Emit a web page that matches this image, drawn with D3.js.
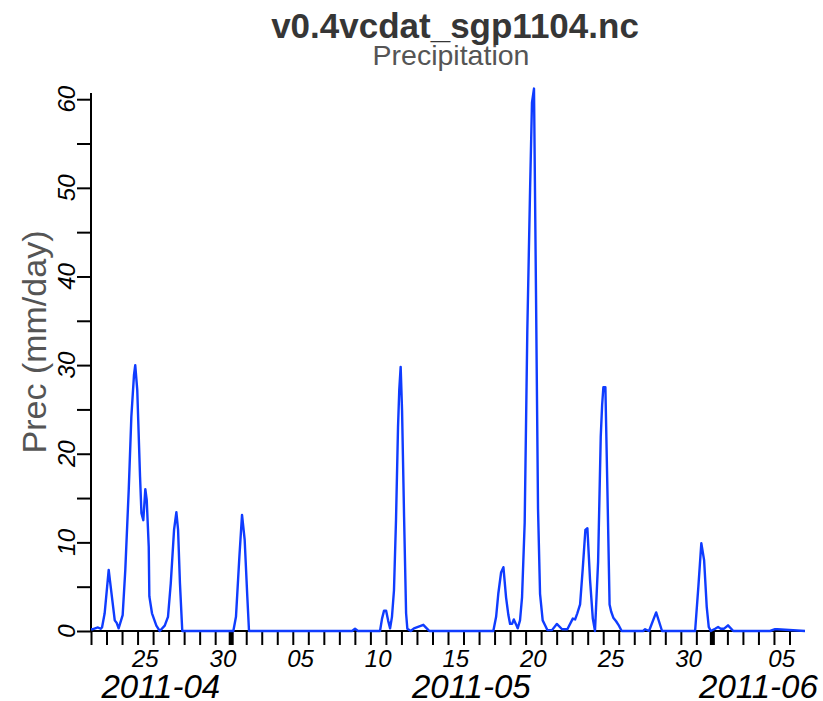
<!DOCTYPE html>
<html>
<head>
<meta charset="utf-8">
<script src="https://cdn.jsdelivr.net/npm/d3@7"></script>
<style>
  body { margin: 0; background: #fff; }
  text { font-family: "Liberation Sans", Arial, Helvetica, sans-serif; }
</style>
</head>
<body>
<svg id="chart"></svg>
<script>
// time axis starts 2011-04-22 00:00 UTC, offsets are in days
const startDate = new Date(Date.UTC(2011, 3, 22));
const endDate = new Date(Date.UTC(2011, 5, 7));

const dayOffset = [
  0, 0.13, 0.45, 0.62, 0.71, 0.88, 1.14, 1.22, 1.53, 1.66, 1.78, 2.04, 2.21, 2.43,
  2.60, 2.77, 2.85, 2.98, 3.16, 3.25, 3.37, 3.50, 3.59, 3.72, 3.76, 3.93, 4.21, 4.43,
  4.75, 4.96, 5.14, 5.35, 5.50, 5.61, 5.73, 5.88,
  9.17, 9.34, 9.56, 9.73, 9.90, 10.07, 10.18,
  16.82, 17.01, 17.20,
  18.62, 18.75, 18.88, 19.01, 19.14, 19.27, 19.39, 19.52, 19.65, 19.78, 19.86, 19.95,
  20.04, 20.17, 20.30, 20.38, 20.60, 20.81, 21.11, 21.41, 21.63, 21.80,
  25.92, 26.10, 26.24, 26.42, 26.57, 26.74, 26.89, 27.00, 27.13, 27.24, 27.37, 27.49,
  27.64, 27.77, 27.94, 28.11, 28.29, 28.41, 28.54, 28.67, 28.80, 28.93, 29.10, 29.27,
  29.40, 29.70, 30.01, 30.35, 30.69, 31.04, 31.19, 31.33, 31.51, 31.68, 31.85, 31.98,
  32.15, 32.33, 32.47, 32.67, 32.84, 32.93, 33.01, 33.14, 33.28, 33.41, 33.51, 33.65,
  33.83, 33.98, 34.19,
  35.57, 35.70, 35.95, 36.41, 36.79,
  38.92, 39.13, 39.32, 39.50, 39.67, 39.80, 39.93, 40.21, 40.40, 40.57, 40.79, 41.04, 41.38,
  43.75, 44.07, 44.22, 46.0
];

const prec = [
  0.2, 0.2, 0.4, 0.25, 0.4, 2.0, 6.9, 5.7, 1.2, 0.9, 0.3, 1.8, 6.9, 15.9,
  24.2, 28.9, 30.0, 27.2, 17.4, 13.3, 12.5, 16.0, 14.8, 9.5, 3.9, 2.0, 0.6, 0,
  0.6, 1.6, 5.4, 11.4, 13.4, 11.4, 5.4, 0,
  0, 1.6, 8.4, 13.1, 10.3, 3.9, 0,
  0, 0.25, 0,
  0, 1.4, 2.3, 2.3, 1.2, 0.3, 1.6, 4.6, 12.5, 23.0, 27.2, 29.8,
  24.9, 12.9, 2.0, 0.26, 0, 0.3, 0.5, 0.7, 0.3, 0,
  0, 1.6, 4.2, 6.6, 7.2, 3.8, 1.8, 0.8, 0.8, 1.3, 0.8, 0.3,
  1.2, 3.8, 12.2, 33.9, 50.0, 59.6, 61.2, 38.0, 13.8, 4.2, 1.2, 0.6,
  0.1, 0.1, 0.8, 0.2, 0.2, 1.4, 1.3, 2.0, 3.0, 7.0, 11.4, 11.6,
  5.8, 1.4, 0, 7.8, 21.9, 25.5, 27.5, 27.5, 15.0, 3.0, 2.2, 1.5,
  1.1, 0.7, 0,
  0, 0.2, 0, 2.1, 0,
  0, 5.0, 9.9, 8.0, 2.7, 0.45, 0, 0.26, 0.45, 0.26, 0.26, 0.64, 0,
  0, 0.2, 0.2, 0, 0
];

const yTicks = [0, 5, 10, 15, 20, 25, 30, 35, 40, 45, 50, 55, 60];
const dayLabels = [
  new Date(Date.UTC(2011, 3, 25)), new Date(Date.UTC(2011, 3, 30)),
  new Date(Date.UTC(2011, 4, 5)), new Date(Date.UTC(2011, 4, 10)),
  new Date(Date.UTC(2011, 4, 15)), new Date(Date.UTC(2011, 4, 20)),
  new Date(Date.UTC(2011, 4, 25)), new Date(Date.UTC(2011, 4, 30)),
  new Date(Date.UTC(2011, 5, 5))
];
const monthStarts = [
  new Date(Date.UTC(2011, 3, 1)), new Date(Date.UTC(2011, 4, 1)), new Date(Date.UTC(2011, 5, 1))
];

const width = 823;
const height = 701;
const margin = { top: 93, right: 18, bottom: 70, left: 91 };

const svg = d3.select("#chart")
  .attr("width", width)
  .attr("height", height);

const x = d3.scaleUtc()
  .domain([startDate, endDate])
  .range([margin.left, width - margin.right]);

const y = d3.scaleLinear()
  .domain([0, 60.7])
  .range([height - margin.bottom, margin.top]);

const data = dayOffset.map((d, i) => ({
  date: new Date(startDate.getTime() + d * 864e5),
  value: prec[i]
}));

// titles
svg.append("text")
  .attr("x", 455).attr("y", 38)
  .attr("text-anchor", "middle")
  .style("font-size", "35px").style("font-weight", "bold")
  .attr("fill", "#363636")
  .text("v0.4vcdat_sgp1104.nc");

svg.append("text")
  .attr("x", 451).attr("y", 65)
  .attr("text-anchor", "middle")
  .style("font-size", "28.5px")
  .attr("fill", "#555")
  .text("Precipitation");

// y axis
const yAxis = d3.axisLeft(y).tickValues(yTicks).tickSize(14).tickFormat("");
const gy = svg.append("g")
  .attr("transform", `translate(${margin.left},0)`)
  .call(yAxis);
gy.select(".domain").attr("stroke-width", 2).attr("d", `M0,${y(0)}V${margin.top}`);
gy.selectAll(".tick line").attr("stroke-width", 2);

svg.append("g").selectAll("text")
  .data(yTicks.filter(d => d % 10 === 0))
  .join("text")
  .attr("transform", d => `translate(75,${y(d)}) rotate(-90)`)
  .attr("text-anchor", "middle")
  .style("font-size", "24px").style("font-style", "italic")
  .text(d => d);

svg.append("text")
  .attr("transform", `translate(46,342) rotate(-90)`)
  .attr("text-anchor", "middle")
  .style("font-size", "34px")
  .attr("fill", "#555")
  .text("Prec (mm/day)");

// x axis
const dayTicks = d3.utcDay.range(startDate, endDate);
const xAxis = d3.axisBottom(x).tickValues(dayTicks).tickSize(14).tickFormat("");
const gx = svg.append("g")
  .attr("transform", `translate(0,${y(0)})`)
  .call(xAxis);
gx.select(".domain").attr("stroke-width", 2).attr("d", `M${margin.left},0H${width - margin.right}`);
gx.selectAll(".tick line")
  .attr("stroke-width", d => d.getUTCDate() === 1 ? 5 : 2);

svg.append("g").selectAll("text")
  .data(dayLabels)
  .join("text")
  .attr("x", d => x(d3.utcHour.offset(d, 12)))
  .attr("y", 667)
  .attr("text-anchor", "middle")
  .style("font-size", "24px").style("font-style", "italic")
  .text(d3.utcFormat("%d"));

// month labels centred on the visible part of each month
svg.append("g").selectAll("text")
  .data(monthStarts)
  .join("text")
  .attr("x", d => {
    const a = d3.max([d, startDate]);
    const b = d3.min([d3.utcMonth.offset(d, 1), endDate]);
    return (x(a) + x(b)) / 2;
  })
  .attr("y", 698)
  .attr("text-anchor", "middle")
  .style("font-size", "33px").style("font-style", "italic")
  .text(d3.utcFormat("%Y-%m"));

// precipitation line
const line = d3.line()
  .x(d => x(d.date))
  .y(d => y(d.value));

svg.append("path")
  .datum(data)
  .attr("fill", "none")
  .attr("stroke", "#0f3cff")
  .attr("stroke-width", 2.4)
  .attr("stroke-linejoin", "round")
  .attr("d", line);
</script>
</body>
</html>
